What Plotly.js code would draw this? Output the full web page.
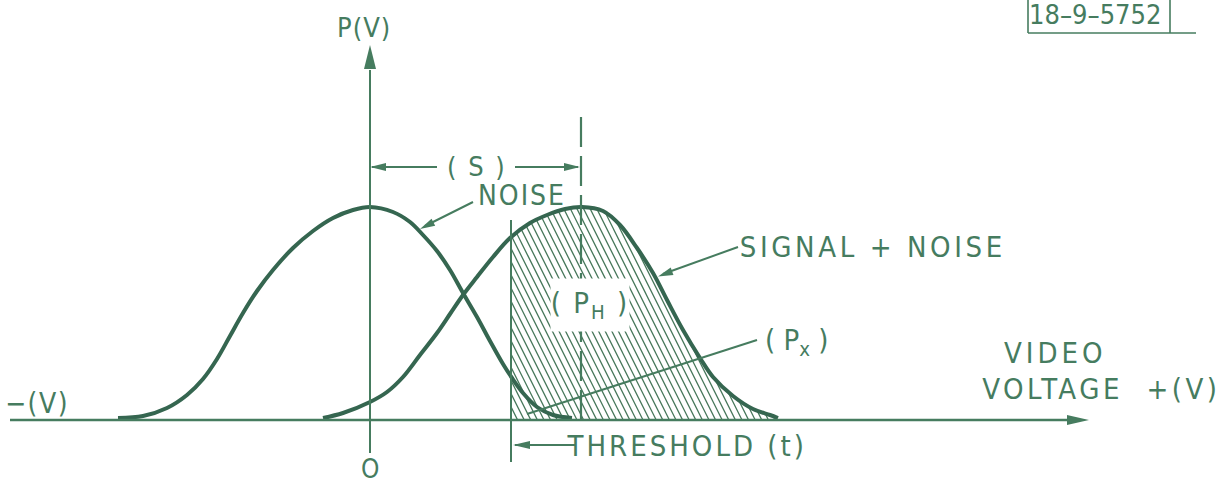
<!DOCTYPE html>
<html><head><meta charset="utf-8">
<script src="https://cdn.plot.ly/plotly-3.0.1.min.js"></script>
<style>html,body{margin:0;padding:0;background:#fff;overflow:hidden;}</style>
</head><body>
<div id="chart" style="width:1221px;height:480px;"></div>
<script>
// Noise distribution P(V): video voltage (0 at the P(V) axis) vs relative probability density
const noiseV = [-2.52,-2.27,-2.03,-1.83,-1.67,-1.53,-1.40,-1.27,-1.13,-0.97,-0.77,-0.57,-0.37,-0.17,0,0.23,0.40,0.53,0.67,0.80,0.93,1.07,1.20,1.33,1.42,1.53,1.67,1.83,2.02];
const noiseP = [0.01,0.02,0.06,0.125,0.205,0.305,0.42,0.535,0.645,0.75,0.86,0.945,1.01,1.05,1.065,1.04,0.99,0.925,0.845,0.75,0.635,0.515,0.395,0.28,0.21,0.135,0.065,0.025,0.01];
// Signal + noise distribution
const signalV = [-0.47,-0.27,0,0.17,0.33,0.50,0.67,0.80,0.93,1.07,1.23,1.40,1.60,1.77,1.95,2.12,2.33,2.50,2.67,2.83,2.97,3.13,3.30,3.43,3.63,3.83,4.00,4.08];
const signalP = [0.01,0.035,0.09,0.14,0.215,0.325,0.435,0.53,0.625,0.715,0.815,0.91,0.985,1.025,1.055,1.065,1.045,0.975,0.86,0.735,0.60,0.45,0.31,0.215,0.12,0.055,0.025,0.01];
// Threshold (t) and mean signal offset (S)
const threshold = 1.41;
const signalMean = 2.11;
// Labels
const labels = {
  py: 'P(V)', zero: 'O', neg: '\u2212(V)', S: '( S )', noise: 'NOISE',
  sn: 'SIGNAL + NOISE', ph: '( P<sub>H</sub> )', px: '( P<sub>x</sub> )',
  video: 'VIDEO', voltage: 'VOLTAGE  +(V)', thr: 'THRESHOLD (t)', code: '18\u20139\u20135752'
};

const CURVE = '#356650', INK = '#467c5f', HATCH = '#457659';
const PX = 100, PY = 200, X0 = 370, Y0 = 420; // pixels per unit / pixel origin (matches ranges below)
const XR = [-3.70, 8.51], YR = [-0.30, 2.10];

function interp(xs, ys, x) {
  if (x <= xs[0]) return ys[0];
  for (let i = 1; i < xs.length; i++) {
    if (x <= xs[i]) { const f = (x - xs[i-1]) / (xs[i] - xs[i-1]); return ys[i-1] + f * (ys[i] - ys[i-1]); }
  }
  return ys[ys.length-1];
}

// hatch lines under the signal curve beyond the threshold
const hx = [], hy = [];
const vEnd = signalV[signalV.length-1];
const slope = 0.5, spacing = 6.6; // px
for (let k = 0; ; k++) {
  const xb = threshold + k * spacing / PX;
  if (xb > vEnd + slope * 240 / PX) break;
  let run = null;
  for (let h = 0; h <= 240; h += 0.5) {
    const x = xb - slope * h / PX, y = h / PY;
    const inside = x >= threshold && x <= vEnd && y <= interp(signalV, signalP, x);
    if (inside) { if (!run) run = [x, y, x, y]; else { run[2] = x; run[3] = y; } }
    else if (run) { hx.push(run[0], run[2], null); hy.push(run[1], run[3], null); run = null; }
  }
  if (run) { hx.push(run[0], run[2], null); hy.push(run[1], run[3], null); }
}

function toPx(x, y) { return [X0 + x * PX, Y0 - y * PY]; }
function toData(px, py) { return [(px - X0) / PX, (Y0 - py) / PY]; }
function head(xTip, yTip, xFrom, yFrom, len, hw, color) {
  const [tx, ty] = toPx(xTip, yTip), [fx, fy] = toPx(xFrom, yFrom);
  const d = Math.hypot(tx - fx, ty - fy), ux = (tx - fx) / d, uy = (ty - fy) / d;
  const bx = tx - ux * len, by = ty - uy * len;
  const a = toData(tx, ty), b = toData(bx - uy * hw, by + ux * hw), c = toData(bx + uy * hw, by - ux * hw);
  return {type: 'path', path: `M${a[0]},${a[1]} L${b[0]},${b[1]} L${c[0]},${c[1]} Z`,
    fillcolor: color || INK, line: {width: 0}, layer: 'above'};
}
function seg(x0, y0, x1, y1, w, color, dash) {
  return {type: 'line', x0, y0, x1, y1, layer: 'above', line: {color: color || INK, width: w || 2, dash: dash || 'solid'}};
}

const traces = [
  {x: hx, y: hy, mode: 'lines', line: {color: HATCH, width: 1.3}, hoverinfo: 'skip', connectgaps: false},
  {x: noiseV, y: noiseP, mode: 'lines', name: 'Noise', line: {color: CURVE, width: 4, shape: 'spline', smoothing: 1}},
  {x: signalV, y: signalP, mode: 'lines', name: 'Signal + Noise', line: {color: CURVE, width: 4, shape: 'spline', smoothing: 1}}
];

const shapes = [
  seg(-3.60, 0, 7.0, 0, 2.5),                 // x axis
  head(7.19, 0, 7.0, 0, 22, 5),
  seg(0, -0.165, 0, 1.75, 2),                 // y axis
  head(0, 1.875, 0, 1.5, 24, 6),
  seg(threshold, -0.21, threshold, 1.0, 2),   // threshold line
  seg(signalMean, 0, signalMean, 1.535, 2.2, INK, '30px,9px'), // dashed S line
  // (S) dimension
  seg(0.02, 1.265, 0.67, 1.265, 2), head(0.0, 1.265, 0.5, 1.265, 16, 4),
  seg(1.45, 1.265, 2.08, 1.265, 2), head(2.10, 1.265, 1.6, 1.265, 16, 4),
  // threshold arrow
  seg(1.45, -0.125, 2.05, -0.125, 2), head(1.43, -0.125, 2.0, -0.125, 17, 4),
  // NOISE pointer
  seg(1.03, 1.09, 0.55, 0.97, 2), head(0.50, 0.955, 1.03, 1.09, 15, 4),
  // SIGNAL + NOISE pointer
  seg(3.68, 0.865, 2.93, 0.73, 2), head(2.88, 0.718, 3.68, 0.865, 15, 4),
  // (Px) pointer
  seg(3.87, 0.40, 1.57, 0.03, 2),
  // drawing number box
  seg(6.58, 1.935, 6.58, 2.2, 1.6), seg(8.00, 1.935, 8.00, 2.2, 1.6), seg(6.58, 1.935, 8.26, 1.935, 1.6)
];

const FONT = '"Liberation Sans Narrow", "DejaVu Sans Condensed", "Roboto Condensed", "Liberation Sans", sans-serif';
function ann(text, x, y, size, extra) {
  return Object.assign({text, x, y, xref: 'x', yref: 'y', showarrow: false, xanchor: 'center', yanchor: 'middle',
    font: {family: FONT, size: size || 29, color: INK}}, extra || {});
}
const annotations = [
  ann(labels.py, -0.06, 1.965, 27),
  ann(labels.zero, 0, -0.245, 26),
  ann(labels.neg, -3.33, 0.085, 28),
  ann(labels.S, 1.065, 1.27, 27),
  ann(labels.noise, 1.52, 1.125, 28),
  ann(labels.sn, 5.03, 0.865, 29),
  ann(labels.ph, 2.20, 0.575, 29, {bgcolor: '#ffffff', width: 76, height: 50}),
  ann(labels.px, 4.0 + 0.26, 0.39, 29),
  ann(labels.video, 6.85, 0.335, 29),
  ann(labels.voltage, 7.31, 0.155, 29),
  ann(labels.thr, 3.16, -0.13, 29),
  ann(labels.code, 7.25, 2.03, 27)
];
const spacingPx = [1, 0, 1.5, 2, 2, 3.6, 2, 0, 4, 3.5, 3, 0];

const layout = {
  width: 1221, height: 480, margin: {l: 0, r: 0, t: 0, b: 0},
  paper_bgcolor: '#ffffff', plot_bgcolor: '#ffffff', showlegend: false,
  xaxis: {range: XR, visible: false, fixedrange: true},
  yaxis: {range: YR, visible: false, fixedrange: true},
  shapes, annotations
};

function applySpacing() {
  document.querySelectorAll('#chart .annotation').forEach((g, i) => {
    const t = g.querySelector('.annotation-text');
    if (t && spacingPx[i] != null) t.style.letterSpacing = spacingPx[i] + 'px';
  });
}
Plotly.newPlot('chart', traces, layout, {staticPlot: true, displayModeBar: false}).then(gd => {
  applySpacing();
  gd.on('plotly_afterplot', applySpacing);
});
</script>
</body></html>
